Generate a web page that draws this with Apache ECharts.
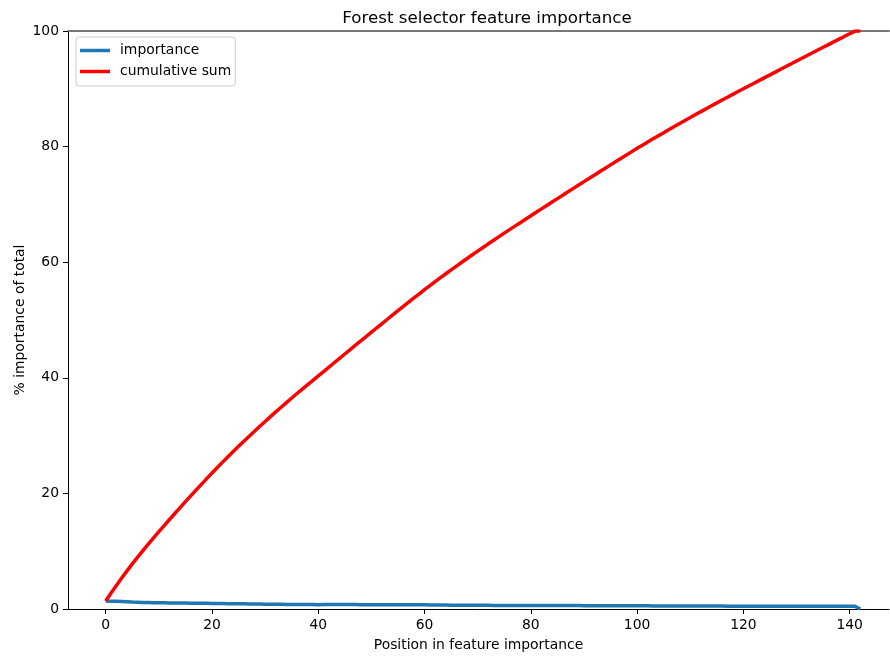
<!DOCTYPE html>
<html>
<head>
<meta charset="utf-8">
<script src="https://cdn.jsdelivr.net/npm/echarts@6/dist/echarts.min.js"></script>
<style>
html,body{margin:0;padding:0;background:#fff;}
#chart{width:890px;height:657px;}
</style>
</head>
<body>
<div id="chart"></div>
<script>
var chartTitle = 'Forest selector feature importance';
var xAxisName = 'Position in feature importance';
var yAxisName = '% importance of total';
var seriesNames = ['importance', 'cumulative sum'];
var xTicks = [0, 20, 40, 60, 80, 100, 120, 140];
var yTicks = [0, 20, 40, 60, 80, 100];

// % importance of each feature, sorted by position (0..142)
var importance = [
  1.40, 1.36, 1.32, 1.28, 1.24, 1.20, 1.17, 1.14, 1.11,
  1.08, 1.07, 1.06, 1.05, 1.04, 1.03, 1.02, 1.01, 1.00, 0.99, 0.98, 0.97,
  0.95, 0.94, 0.92, 0.91, 0.90, 0.89, 0.87, 0.86, 0.85, 0.84,
  0.83, 0.82, 0.81, 0.80, 0.79, 0.78, 0.77, 0.76, 0.76, 0.75,
  0.76, 0.76, 0.76, 0.76, 0.76, 0.76, 0.76, 0.75, 0.75, 0.75,
  0.75, 0.75, 0.74, 0.74, 0.74, 0.74, 0.73, 0.73, 0.72, 0.72,
  0.70, 0.69, 0.68, 0.68, 0.67, 0.66, 0.66, 0.65, 0.64, 0.64,
  0.63, 0.63, 0.62, 0.62, 0.61, 0.61, 0.60, 0.60, 0.60, 0.59,
  0.60, 0.60, 0.59, 0.59, 0.59, 0.59, 0.59, 0.59, 0.59, 0.58,
  0.58, 0.58, 0.58, 0.58, 0.58, 0.58, 0.57, 0.57, 0.57, 0.57,
  0.55, 0.55, 0.54, 0.54, 0.53, 0.53, 0.53, 0.52, 0.52, 0.52,
  0.51, 0.51, 0.51, 0.50, 0.50, 0.50, 0.49, 0.49, 0.49, 0.48,
  0.48, 0.48, 0.48, 0.48, 0.48, 0.48, 0.48, 0.48, 0.48, 0.48,
  0.48, 0.48, 0.47, 0.47, 0.47, 0.47, 0.47, 0.47, 0.47, 0.46,
  0.46, 0.00
];

var impData = [];
var cumData = [];
var running = 0;
for (var i = 0; i < importance.length; i++) {
  running += importance[i];
  impData.push([i, importance[i]]);
  cumData.push([i, running]);
}

var FONT = 'DejaVu Sans';
var chart = echarts.init(document.getElementById('chart'), null, {renderer: 'canvas'});
chart.setOption({
  backgroundColor: '#ffffff',
  animation: false,
  textStyle: {fontFamily: FONT},
  title: {
    text: chartTitle,
    left: 482,
    top: 5,
    textAlign: 'center',
    textStyle: {fontFamily: FONT, fontSize: 16.7, fontWeight: 'normal', color: '#000'}
  },
  legend: {
    orient: 'vertical',
    left: 76,
    top: 37,
    padding: [6, 4, 7, 4],
    itemGap: 6,
    itemWidth: 30,
    itemHeight: 3.5,
    icon: 'rect',
    backgroundColor: 'rgba(255,255,255,0.8)',
    borderColor: '#cccccc',
    borderWidth: 1,
    borderRadius: 3,
    textStyle: {fontFamily: FONT, fontSize: 13.9, color: '#000', lineHeight: 15, padding: [0, 0, 0, 5]},
    data: seriesNames
  },
  grid: {left: 68, top: 31, right: 1, height: 579, containLabel: false},
  xAxis: [{
    type: 'value',
    min: -7.1,
    max: 147.4,
    position: 'bottom',
    name: xAxisName,
    nameLocation: 'middle',
    nameGap: 29,
    nameMoveOverlap: false,
    nameTextStyle: {fontFamily: FONT, fontSize: 13.9, color: '#000'},
    splitLine: {show: false},
    axisLine: {show: true, onZero: false, lineStyle: {color: '#000', width: 1}},
    axisTick: {show: true, length: 5, lineStyle: {color: '#000', width: 1}, customValues: xTicks},
    axisLabel: {fontFamily: FONT, fontSize: 13.9, color: '#000', margin: 9, customValues: xTicks}
  }, {
    type: 'value',
    min: -7.1,
    max: 147.4,
    position: 'top',
    splitLine: {show: false},
    axisLine: {show: true, onZero: false, lineStyle: {color: '#777', width: 2}},
    axisTick: {show: false},
    axisLabel: {show: false}
  }],
  yAxis: {
    type: 'value',
    min: 0,
    max: 100,
    interval: 20,
    name: yAxisName,
    nameLocation: 'middle',
    nameGap: 41,
    nameMoveOverlap: false,
    nameTextStyle: {fontFamily: FONT, fontSize: 13.9, color: '#000'},
    splitLine: {show: false},
    axisLine: {show: true, onZero: false, lineStyle: {color: '#000', width: 1}},
    axisTick: {show: true, length: 5, lineStyle: {color: '#000', width: 1}},
    axisLabel: {fontFamily: FONT, fontSize: 13.9, color: '#000', margin: 9}
  },
  series: [{
    name: seriesNames[0],
    type: 'line',
    xAxisIndex: 0,
    data: impData,
    showSymbol: false,
    symbol: 'none',
    color: '#1f77b4',
    lineStyle: {width: 3.5, color: '#1f77b4'}
  }, {
    name: seriesNames[1],
    type: 'line',
    xAxisIndex: 0,
    data: cumData,
    showSymbol: false,
    symbol: 'none',
    color: '#ff0000',
    lineStyle: {width: 3.5, color: '#ff0000'}
  }]
});
</script>
</body>
</html>
